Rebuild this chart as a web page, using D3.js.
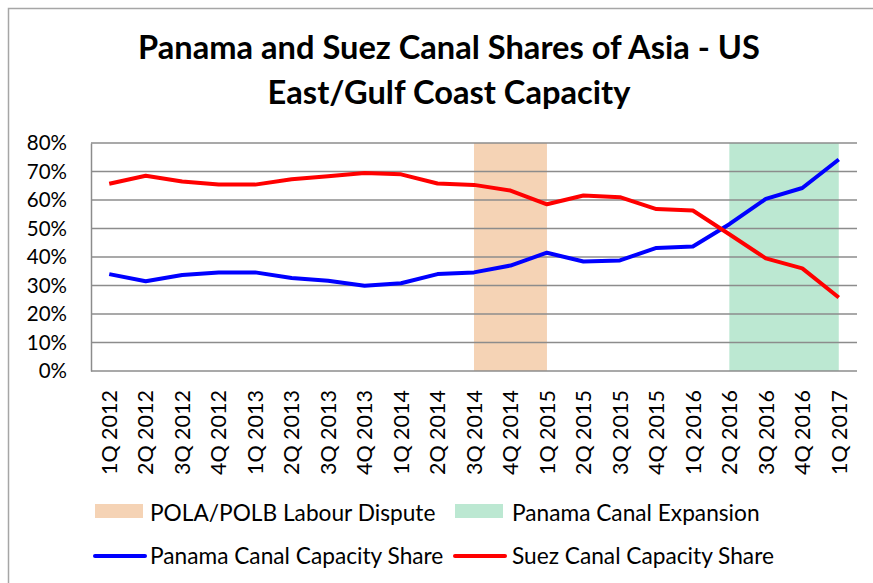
<!DOCTYPE html>
<html>
<head>
<meta charset="utf-8">
<script src="https://cdn.jsdelivr.net/npm/d3@7"></script>
<style>
  body { margin: 0; background: #fff; }
  svg { display: block; }
  text { font-family: Lato, "Open Sans", sans-serif; fill: #000; }
</style>
</head>
<body>
<div id="chart"></div>
<script>
const width = 873, height = 583,
  margin = { top: 143, bottom: 212, left: 91, right: 16 }

// quarters on the x axis
const quarters = ["1Q 2012","2Q 2012","3Q 2012","4Q 2012","1Q 2013","2Q 2013","3Q 2013","4Q 2013",
  "1Q 2014","2Q 2014","3Q 2014","4Q 2014","1Q 2015","2Q 2015","3Q 2015","4Q 2015",
  "1Q 2016","2Q 2016","3Q 2016","4Q 2016","1Q 2017"]

// capacity shares, percent
const panamaShare = [34, 31.5, 33.7, 34.6, 34.6, 32.6, 31.7, 29.9, 30.8, 34, 34.6, 37, 41.5,
  38.4, 38.8, 43.2, 43.7, 51.5, 60.4, 64.2, 74.2]
const suezShare = [65.7, 68.5, 66.5, 65.4, 65.4, 67.3, 68.3, 69.5, 69, 65.8, 65.3, 63.3, 58.5,
  61.6, 61, 56.8, 56.3, 48, 39.5, 36, 25.8]

// shaded periods
const periods = [
  { name: "POLA/POLB Labour Dispute", from: "3Q 2014", to: "1Q 2015", color: "#f5d3b5" },
  { name: "Panama Canal Expansion", from: "2Q 2016", to: "1Q 2017", color: "#bce8d2" }
]

const series = [
  { name: "Panama Canal Capacity Share", values: panamaShare, color: "#0000ff" },
  { name: "Suez Canal Capacity Share", values: suezShare, color: "#ff0000" }
]

const yTicks = [0, 10, 20, 30, 40, 50, 60, 70, 80]

const svg = d3.select("#chart").append("svg")
  .attr("width", width)
  .attr("height", height)

// outer chart border
svg.append("rect")
  .attr("x", 8.5).attr("y", 8.5)
  .attr("width", width + 20).attr("height", height + 20)
  .attr("fill", "none")
  .attr("stroke", "#a6a6a6")
  .attr("stroke-width", 1.5)

// title, two lines
const titleLines = ["Panama and Suez Canal Shares of Asia - US", "East/Gulf Coast Capacity"]
const title = svg.append("g")
  .selectAll("text")
  .data(titleLines)
  .join("text")
  .attr("x", 449)
  .attr("y", (d, i) => 59 + i * 44.5)
  .attr("text-anchor", "middle")
  .attr("font-weight", "bold")
  .attr("font-size", 28)
  .text(d => d)
// fit first line to the width seen in the picture
const w0 = title.nodes()[0].getComputedTextLength()
title.attr("font-size", 28 * 622 / w0)

const x = d3.scaleBand()
  .domain(quarters)
  .range([margin.left, width - margin.right])
  .padding(0)

const y = d3.scaleLinear()
  .domain([0, 80])
  .range([height - margin.bottom, margin.top])

const cx = d => x(d) + x.bandwidth() / 2

// shaded bands
svg.append("g")
  .selectAll("rect")
  .data(periods)
  .join("rect")
  .attr("x", d => cx(d.from))
  .attr("width", d => cx(d.to) - cx(d.from))
  .attr("y", y(80))
  .attr("height", y(0) - y(80))
  .attr("fill", d => d.color)

// gridlines
svg.append("g")
  .selectAll("line")
  .data(yTicks)
  .join("line")
  .attr("x1", margin.left)
  .attr("x2", width - margin.right)
  .attr("y1", d => y(d))
  .attr("y2", d => y(d))
  .attr("stroke", "#8c8c8c")
  .attr("stroke-width", 1.5)

// y axis
const yAxis = svg.append("g")
  .attr("transform", `translate(${margin.left},0)`)
  .call(d3.axisLeft(y).tickValues(yTicks).tickSize(0).tickPadding(24).tickFormat(d => d + "%"))
yAxis.select(".domain").attr("stroke", "#8c8c8c").attr("stroke-width", 1.5)
yAxis.selectAll("text")
  .attr("font-size", 20.5)
  .attr("font-family", "Lato, sans-serif")
  .attr("fill", "#000")

// x axis labels, rotated
const xAxis = svg.append("g")
  .attr("transform", `translate(0,${y(0)})`)
  .call(d3.axisBottom(x).tickSize(0).tickPadding(0))
xAxis.select(".domain").remove()
xAxis.selectAll("text")
  .attr("font-size", 21.5)
  .attr("font-family", "Lato, sans-serif")
  .attr("fill", "#000")
  .attr("text-anchor", "end")
  .attr("transform", "rotate(-90)")
  .attr("x", -19)
  .attr("y", 0)
  .attr("dy", "0.36em")

// lines
const line = d3.line()
  .x((d, i) => cx(quarters[i]))
  .y(d => y(d))

svg.append("g")
  .selectAll("path")
  .data(series)
  .join("path")
  .attr("d", d => line(d.values))
  .attr("fill", "none")
  .attr("stroke", d => d.color)
  .attr("stroke-width", 4)
  .attr("stroke-linejoin", "round")

// legend
const legendX = [95, 455]
const legend = svg.append("g")

legend.selectAll("rect")
  .data(periods)
  .join("rect")
  .attr("x", (d, i) => legendX[i])
  .attr("y", 504)
  .attr("width", 48)
  .attr("height", 14)
  .attr("fill", d => d.color)

legend.selectAll("line")
  .data(series)
  .join("line")
  .attr("x1", (d, i) => legendX[i])
  .attr("x2", (d, i) => legendX[i] + 50)
  .attr("y1", 556)
  .attr("y2", 556)
  .attr("stroke", d => d.color)
  .attr("stroke-width", 4)
  .attr("stroke-linecap", "round")

legend.selectAll("text")
  .data(periods.map(d => d.name).concat(series.map(d => d.name)))
  .join("text")
  .attr("x", (d, i) => legendX[i % 2] + (i % 2 ? 57 : 55))
  .attr("y", (d, i) => i < 2 ? 521 : 564)
  .attr("font-size", 22.7)
  .text(d => d)
</script>
</body>
</html>
